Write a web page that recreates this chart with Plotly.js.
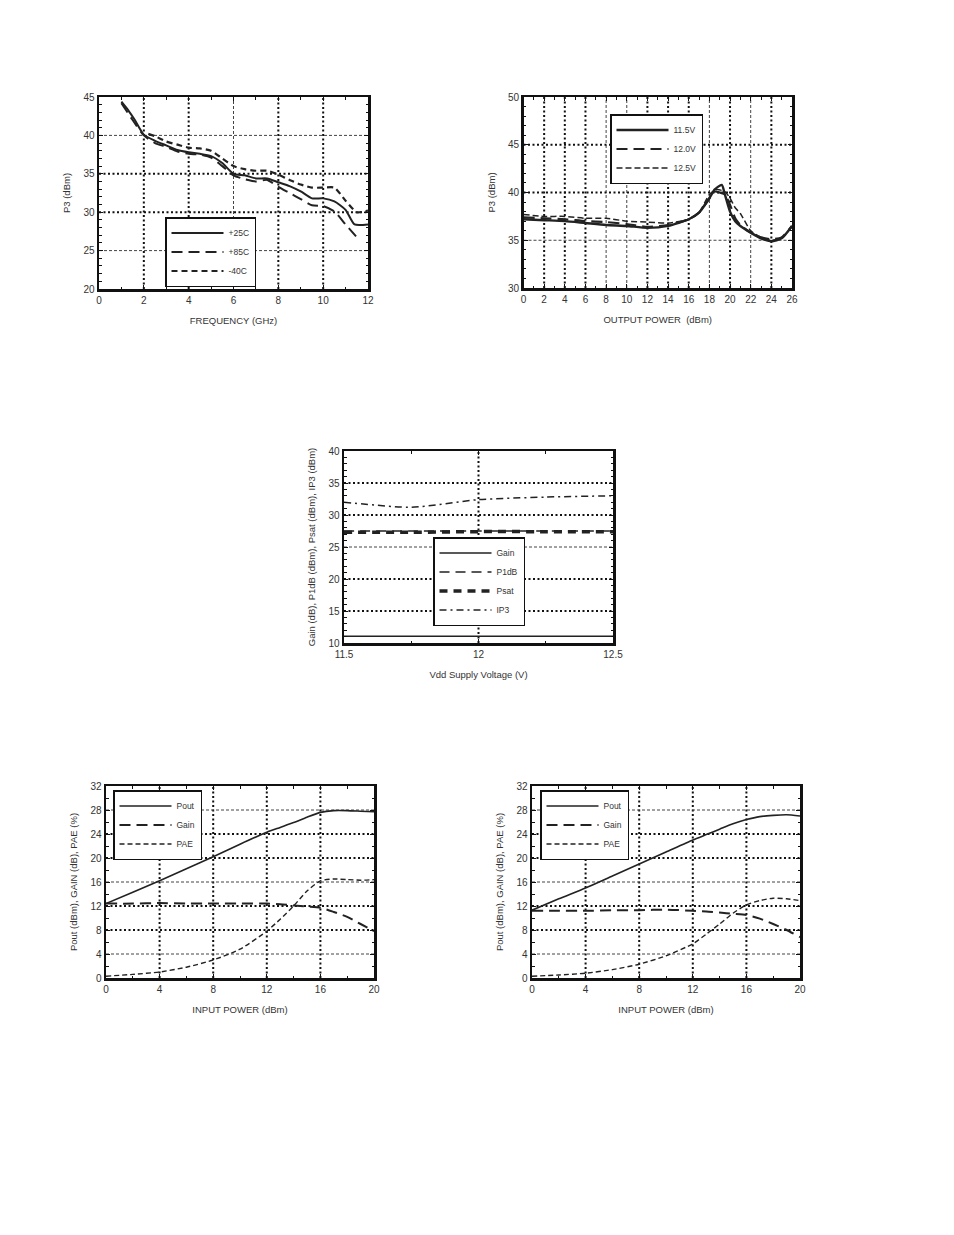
<!DOCTYPE html>
<html>
<head>
<meta charset="utf-8">
<script src="https://cdn.plot.ly/plotly-3.0.1.min.js"></script>
<style>html,body{margin:0;padding:0;background:#fff;}#chart{width:954px;height:1235px;}</style>
</head>
<body>
<div id="chart"></div>
<script>
// ---------- Plot 1: P3 vs Frequency ----------
const p1x25 = [1, 1.3, 1.6, 2, 2.5, 3, 3.5, 4, 4.5, 5, 5.5, 6, 6.5, 7, 7.5, 8, 8.5, 9, 9.5, 10, 10.5, 11, 11.4, 12];
const p1y25 = [44.4, 43.3, 42.0, 40.1, 39.3, 38.7, 38.1, 37.8, 37.6, 37.3, 36.4, 35.0, 34.8, 34.4, 34.4, 33.9, 33.4, 32.7, 31.8, 31.8, 31.4, 30.3, 28.4, 28.4];
const p1x85 = [1, 1.5, 2, 2.5, 3, 3.5, 4, 4.5, 5, 5.5, 6, 6.5, 7, 7.5, 8, 8.5, 9, 9.5, 10, 10.5, 11, 11.6];
const p1y85 = [44.2, 42.0, 40.0, 39.0, 38.5, 37.9, 37.6, 37.5, 37.1, 36.0, 34.8, 34.3, 34.0, 34.2, 33.3, 32.5, 31.7, 30.9, 30.8, 30.1, 28.4, 26.4];
const p1xm40 = [2.2, 2.5, 3, 3.5, 4, 4.5, 5, 5.5, 6, 6.5, 7, 7.5, 8, 8.5, 9, 9.5, 10, 10.5, 11, 11.5, 12];
const p1ym40 = [40.2, 39.9, 39.2, 38.8, 38.4, 38.3, 38.0, 37.0, 36.0, 35.6, 35.4, 35.4, 34.9, 34.2, 33.6, 33.2, 33.2, 33.2, 31.5, 30.0, 30.2];

// ---------- Plot 2: P3 vs Output Power ----------
const p2x115 = [0, 2, 4, 6, 8, 10, 12, 14, 16, 17, 18, 18.5, 19.2, 19.5, 20, 20.5, 21, 22, 23, 24, 25, 26];
const p2y115 = [37.2, 37.1, 37.0, 36.8, 36.6, 36.5, 36.3, 36.5, 37.2, 37.9, 39.4, 40.3, 40.8, 39.8, 38.0, 37.0, 36.5, 35.8, 35.2, 34.9, 35.2, 36.5];
const p2x120 = [0, 2, 4, 6, 8, 10, 12, 14, 16, 17, 18, 18.5, 19, 19.5, 20, 20.5, 21, 22, 23, 24, 25, 26];
const p2y120 = [37.4, 37.3, 37.2, 37.0, 36.9, 36.7, 36.4, 36.6, 37.2, 37.9, 39.4, 40.1, 40.0, 39.8, 38.7, 37.3, 36.6, 35.8, 35.3, 35.1, 35.3, 36.5];
const p2x125 = [0, 2, 4, 6, 8, 10, 12, 14, 16, 17, 18, 18.7, 19.5, 20, 20.5, 21, 22, 23, 24, 25, 26];
const p2y125 = [37.7, 37.5, 37.5, 37.3, 37.3, 37.0, 36.9, 36.8, 37.2, 37.9, 39.8, 40.3, 40.1, 39.4, 38.4, 37.8, 36.0, 35.3, 35.0, 35.3, 36.4];

// ---------- Plot 3: vs Vdd ----------
const p3vdd = [11.5, 11.75, 12.0, 12.25, 12.5];
const p3gain = [11.05, 11.05, 11.05, 11.05, 11.05];
const p3p1db = [27.5, 27.5, 27.5, 27.5, 27.5];
const p3psat = [27.3, 27.3, 27.4, 27.4, 27.4];
const p3ip3 = [32.0, 31.2, 32.4, 32.8, 33.0];

// ---------- Plot 4: Pout/Gain/PAE vs Input Power (left) ----------
const p4pin = [0, 2, 4, 6, 8, 10, 12, 13, 14, 15, 16, 17, 18, 19, 20];
const p4pout = [12.4, 14.3, 16.2, 18.2, 20.2, 22.3, 24.3, 25.1, 25.9, 26.8, 27.6, 27.9, 27.9, 27.8, 27.7];
const p4gain = [12.4, 12.4, 12.5, 12.4, 12.4, 12.4, 12.4, 12.3, 12.1, 11.9, 11.7, 11.0, 10.2, 9.0, 7.8];
const p4pae = [0.3, 0.6, 1.0, 1.8, 3.0, 4.8, 7.8, 9.8, 12.0, 14.5, 16.2, 16.5, 16.4, 16.3, 16.4];

// ---------- Plot 5: Pout/Gain/PAE vs Input Power (right) ----------
const p5pin = [0, 2, 4, 6, 8, 10, 12, 13, 14, 15, 16, 17, 18, 19, 20];
const p5pout = [11.3, 13.2, 15.0, 17.0, 19.0, 21.0, 23.0, 23.9, 24.8, 25.7, 26.4, 26.9, 27.1, 27.2, 27.0];
const p5gain = [11.2, 11.2, 11.2, 11.3, 11.3, 11.4, 11.2, 11.1, 10.9, 10.7, 10.5, 9.9, 9.0, 8.0, 6.8];
const p5pae = [0.3, 0.5, 0.8, 1.4, 2.3, 3.7, 5.7, 7.3, 9.0, 10.8, 12.2, 12.9, 13.3, 13.2, 12.9];

// ---------- Tick / grid definitions ----------
const ticks1x = [0, 2, 4, 6, 8, 10, 12], ticks1y = [20, 25, 30, 35, 40, 45];
const ticks2x = [0, 2, 4, 6, 8, 10, 12, 14, 16, 18, 20, 22, 24, 26], ticks2y = [30, 35, 40, 45, 50];
const ticks3x = [11.5, 12, 12.5], ticks3y = [10, 15, 20, 25, 30, 35, 40];
const ticks4x = [0, 4, 8, 12, 16, 20], ticks4y = [0, 4, 8, 12, 16, 20, 24, 28, 32];

const W = 954, H = 1235;
const font = 'Liberation Sans, Arial, sans-serif';
const tickCol = '#333';

const panels = [
  {px:[99,368], py:[97,289], xr:[0,12], yr:[20,45], xt:ticks1x, yt:ticks1y, xm:1, ym:1,
   gxThick:[2,4,8,10], gxThin:[6], gyThick:[30,35], gyThin:[25,40],
   xtitle:'FREQUENCY (GHz)', ytitle:'P3 (dBm)'},
  {px:[523.5,792], py:[97,288], xr:[0,26], yr:[30,50], xt:ticks2x, yt:ticks2y, xm:1, ym:1,
   gxThick:[2,4,6,12,14,16,20,24], gxThin:[8,10,18,22], gyThick:[40,45], gyThin:[35],
   xtitle:'OUTPUT POWER  (dBm)', ytitle:'P3 (dBm)'},
  {px:[344,613], py:[451,643], xr:[11.5,12.5], yr:[10,40], xt:ticks3x, yt:ticks3y, xm:0.25, ym:1,
   gxThick:[12], gxThin:[], gyThick:[15,20,30,35], gyThin:[25],
   xtitle:'Vdd Supply Voltage (V)', ytitle:'Gain (dB), P1dB (dBm), Psat (dBm), IP3 (dBm)'},
  {px:[106,374], py:[786,978], xr:[0,20], yr:[0,32], xt:ticks4x, yt:ticks4y, xm:2, ym:2,
   gxThick:[4,8,12,16], gxThin:[], gyThick:[8,12,20,24], gyThin:[4,16,28],
   xtitle:'INPUT POWER (dBm)', ytitle:'Pout (dBm), GAIN (dB), PAE (%)'},
  {px:[532,800], py:[786,978], xr:[0,20], yr:[0,32], xt:ticks4x, yt:ticks4y, xm:2, ym:2,
   gxThick:[4,8,12,16], gxThin:[], gyThick:[8,12,20,24], gyThin:[4,16,28],
   xtitle:'INPUT POWER (dBm)', ytitle:'Pout (dBm), GAIN (dB), PAE (%)'}
];

const layout = {
  width: W, height: H,
  margin: {l:0, r:0, t:0, b:0},
  paper_bgcolor: '#fff', plot_bgcolor: '#fff',
  showlegend: true,
  font: {family: font, size: 9, color: tickCol},
  shapes: []
};

function axName(letter, n) { return letter + 'axis' + (n === 1 ? '' : n); }
function axId(letter, n) { return letter + (n === 1 ? '' : n); }

const thickGrid = {color: '#111', width: 2, dash: '2px,2.5px'};
const thinGrid = {color: '#444', width: 1, dash: '3px,2px'};

panels.forEach((p, i) => {
  const n = i + 1;
  const xd = [p.px[0] / W, p.px[1] / W];
  const yd = [1 - p.py[1] / H, 1 - p.py[0] / H];
  const common = {
    showline: true, linecolor: '#111', linewidth: 2.5, mirror: 'allticks',
    ticks: 'inside', ticklen: 4, tickcolor: '#111', tickwidth: 1,
    showgrid: false, zeroline: false, tickmode: 'array',
    tickfont: {family: font, size: 10, color: tickCol},
    fixedrange: true, automargin: false
  };
  layout[axName('x', n)] = Object.assign({}, common, {
    domain: xd, range: p.xr, tickvals: p.xt, anchor: axId('y', n),
    ticktext: p.xt.map(v => String(v)),
    minor: {dtick: p.xm, ticks: 'inside', ticklen: 2.5, tickcolor: '#111', showgrid: false},
    title: {text: p.xtitle, font: {family: font, size: 9.5, color: tickCol}, standoff: 13}
  });
  layout[axName('y', n)] = Object.assign({}, common, {
    domain: yd, range: p.yr, tickvals: p.yt, anchor: axId('x', n),
    minor: {dtick: p.ym, ticks: 'inside', ticklen: 2.5, tickcolor: '#111', showgrid: false},
    title: {text: p.ytitle, font: {family: font, size: 9.5, color: tickCol}, standoff: 11}
  });
  // grid lines (reference grid: mix of heavy dotted and light dashed lines)
  const xr = axId('x', n), yr = axId('y', n);
  const addV = (vals, g) => vals.forEach(v => layout.shapes.push({
    type: 'line', layer: 'below', xref: xr, yref: yr + ' domain', x0: v, x1: v, y0: 0, y1: 1,
    line: {color: g.color, width: g.width, dash: g.dash}
  }));
  const addH = (vals, g) => vals.forEach(v => layout.shapes.push({
    type: 'line', layer: 'below', xref: xr + ' domain', yref: yr, x0: 0, x1: 1, y0: v, y1: v,
    line: {color: g.color, width: g.width, dash: g.dash}
  }));
  addV(p.gxThick, thickGrid); addV(p.gxThin, thinGrid);
  addH(p.gyThick, thickGrid); addH(p.gyThin, thinGrid);
});

// legends
const legendBase = {
  bgcolor: '#fff', bordercolor: '#111', borderwidth: 1.5,
  font: {family: font, size: 8.5, color: tickCol},
  xanchor: 'left', yanchor: 'top', itemwidth: 52, tracegroupgap: 0,
  itemclick: false, itemdoubleclick: false
};
const legendPos = [[165, 217], [610, 114], [433, 537], [113, 790], [540, 790]];
legendPos.forEach((lp, i) => {
  const key = i === 0 ? 'legend' : 'legend' + (i + 1);
  layout[key] = Object.assign({}, legendBase, {x: lp[0] / W, y: 1 - lp[1] / H});
});

const LC = '#222';
function tr(x, y, name, n, width, dash) {
  return {
    type: 'scatter', mode: 'lines', x: x, y: y, name: name,
    xaxis: axId('x', n), yaxis: axId('y', n),
    legend: n === 1 ? 'legend' : 'legend' + n,
    line: {color: LC, width: width, dash: dash, shape: 'spline', smoothing: 0.6},
    hoverinfo: 'skip'
  };
}

const data = [
  tr(p1x25, p1y25, '+25C', 1, 2, 'solid'),
  tr(p1x85, p1y85, '+85C', 1, 2, '11px,6px'),
  tr(p1xm40, p1ym40, '-40C', 1, 2.2, '6px,4px'),

  tr(p2x115, p2y115, '11.5V', 2, 2.4, 'solid'),
  tr(p2x120, p2y120, '12.0V', 2, 2.2, '11px,6px'),
  tr(p2x125, p2y125, '12.5V', 2, 1.5, '6px,3px'),

  tr(p3vdd, p3gain, 'Gain', 3, 1.5, 'solid'),
  tr(p3vdd, p3p1db, 'P1dB', 3, 1.5, '10px,6px'),
  tr(p3vdd, p3psat, 'Psat', 3, 3.5, '8px,6px'),
  tr(p3vdd, p3ip3, 'IP3', 3, 1.5, '7px,4px,2px,4px'),

  tr(p4pin, p4pout, 'Pout', 4, 1.6, 'solid'),
  tr(p4pin, p4gain, 'Gain', 4, 2, '11px,6px'),
  tr(p4pin, p4pae, 'PAE', 4, 1.4, '5px,3px'),

  tr(p5pin, p5pout, 'Pout', 5, 1.6, 'solid'),
  tr(p5pin, p5gain, 'Gain', 5, 2, '11px,6px'),
  tr(p5pin, p5pae, 'PAE', 5, 1.4, '5px,3px')
];

Plotly.newPlot('chart', data, layout, {staticPlot: true, displayModeBar: false});
</script>
</body>
</html>
